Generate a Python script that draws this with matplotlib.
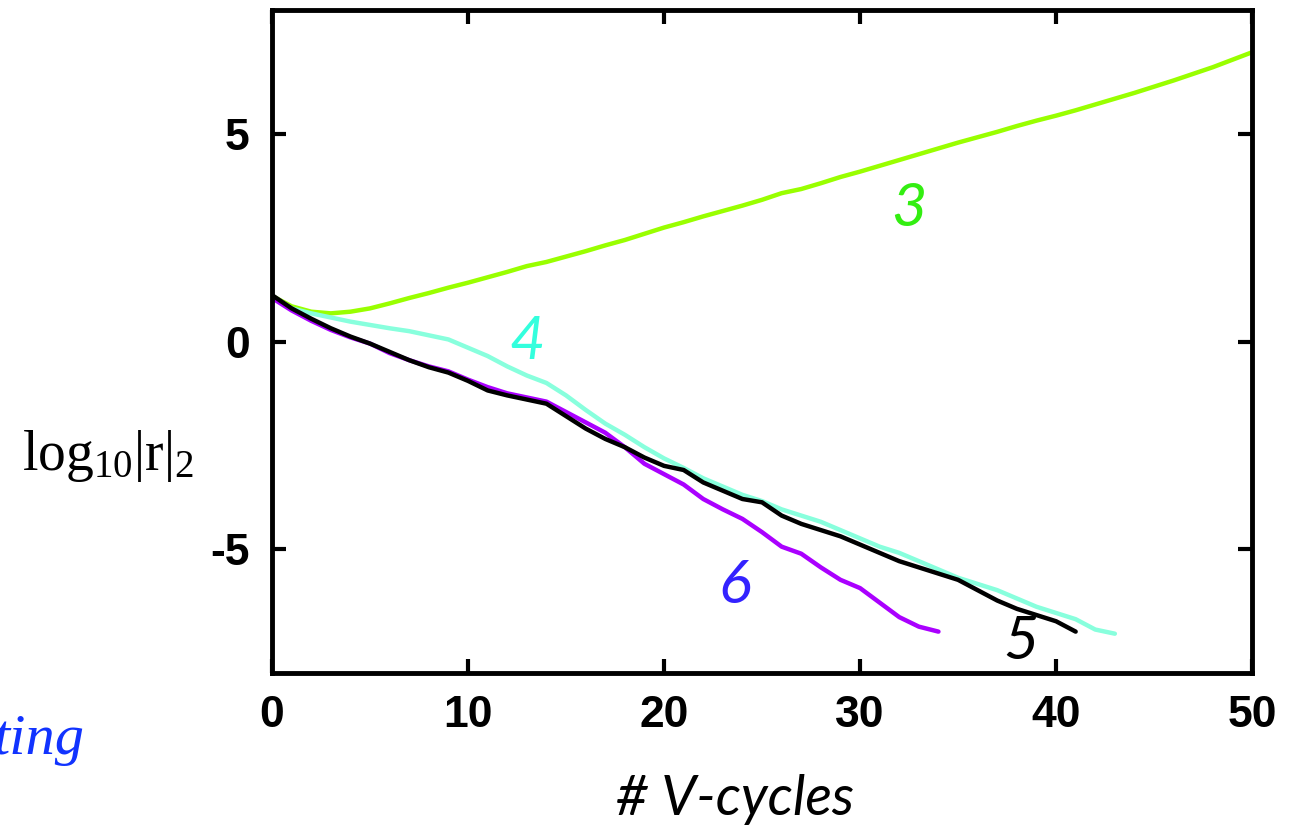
import matplotlib
matplotlib.use("Agg")
import matplotlib.pyplot as plt

# valores (log10 do residuo por V-ciclo)
x_3 = list(range(0, 51))
r_3 = [1.10, 0.85, 0.72, 0.68, 0.72, 0.80, 0.92, 1.05, 1.17, 1.30,
       1.42, 1.55, 1.68, 1.82, 1.92, 2.05, 2.18, 2.32, 2.45, 2.60,
       2.75, 2.88, 3.02, 3.15, 3.28, 3.42, 3.58, 3.68, 3.82, 3.97,
       4.10, 4.24, 4.38, 4.52, 4.66, 4.80, 4.93, 5.06, 5.20, 5.33,
       5.45, 5.58, 5.72, 5.86, 6.00, 6.15, 6.30, 6.46, 6.62, 6.80, 6.98]

x_4 = list(range(0, 44))
r_4 = [1.10, 0.80, 0.68, 0.58, 0.48, 0.40, 0.32, 0.25, 0.15, 0.05,
       -0.15, -0.35, -0.60, -0.82, -1.00, -1.30, -1.65, -1.98, -2.25, -2.55,
       -2.82, -3.05, -3.30, -3.50, -3.70, -3.85, -4.05, -4.20, -4.35, -4.55,
       -4.75, -4.95, -5.10, -5.30, -5.50, -5.70, -5.85, -6.00, -6.20, -6.40,
       -6.55, -6.70, -6.95, -7.05]

x_5 = list(range(0, 42))
r_5 = [1.12, 0.80, 0.55, 0.32, 0.12, -0.05, -0.25, -0.45, -0.62, -0.75,
       -0.95, -1.18, -1.30, -1.40, -1.50, -1.80, -2.10, -2.35, -2.55, -2.80,
       -3.00, -3.10, -3.40, -3.60, -3.80, -3.88, -4.20, -4.40, -4.55, -4.70,
       -4.90, -5.10, -5.30, -5.45, -5.60, -5.75, -6.00, -6.25, -6.45, -6.60,
       -6.75, -7.00]

x_6 = list(range(0, 35))
r_6 = [1.05, 0.75, 0.50, 0.28, 0.10, -0.05, -0.28, -0.45, -0.60, -0.72,
       -0.92, -1.10, -1.25, -1.35, -1.45, -1.70, -1.95, -2.20, -2.55, -2.95,
       -3.20, -3.45, -3.80, -4.05, -4.28, -4.60, -4.95, -5.12, -5.45, -5.75,
       -5.95, -6.30, -6.65, -6.88, -7.00]

xticks = [0, 10, 20, 30, 40, 50]
yticks = [-5, 0, 5]

plt.rcParams["mathtext.fontset"] = "custom"
plt.rcParams["mathtext.rm"] = "Liberation Serif"
plt.rcParams["mathtext.it"] = "Liberation Serif:italic"

fig = plt.figure(figsize=(12.96, 8.33), dpi=100)
ax = fig.add_axes([0.2099, 0.192, 0.7562, 0.796])

lw = 3.2
ax.plot(x_3, r_3, color="#99FF00", lw=lw, solid_capstyle="round")
ax.plot(x_4, r_4, color="#88FFDD", lw=lw, solid_capstyle="round")
ax.plot(x_6, r_6, color="#AA00FF", lw=lw, solid_capstyle="round")
ax.plot(x_5, r_5, color="black", lw=lw, solid_capstyle="round")

ax.set_xlim(0, 50)
ax.set_ylim(-8, 8)
ax.set_xticks(xticks)
ax.set_yticks(yticks)
ax.set_xticklabels([str(v) for v in xticks], fontsize=32, fontweight="bold",
                   family="Liberation Sans")
ax.set_yticklabels([str(v) for v in yticks], fontsize=32, fontweight="bold",
                   family="Liberation Sans")
ax.tick_params(direction="in", length=10, width=3, top=True, right=True, pad=16)
for s in ax.spines.values():
    s.set_linewidth(3.5)

# rotulos das curvas
rot = dict(fontsize=44, style="italic", family="Lato", ha="center", va="center")
ax.text(32.5, 3.2, "3", color="#33EE11", **rot)
ax.text(13.0, 0.0, "4", color="#33FFDD", **rot)
ax.text(23.6, -5.9, "6", color="#3322FF", **rot)
ax.text(38.2, -7.25, "5", color="black", **rot)

fig.text(0.083, 0.453, r"$\mathrm{log}_{\mathrm{10}}\mathrm{|r|}_{\mathrm{2}}$",
         fontsize=40, ha="center", va="center")
fig.text(0.03, 0.112, "ting", fontsize=42, style="italic", family="Liberation Serif",
         color="#1133FF", ha="center", va="center")
fig.text(0.567, 0.04, "# V-cycles", fontsize=40, style="italic", family="Lato",
         ha="center", va="center")

fig.savefig("out.png", dpi=100)
